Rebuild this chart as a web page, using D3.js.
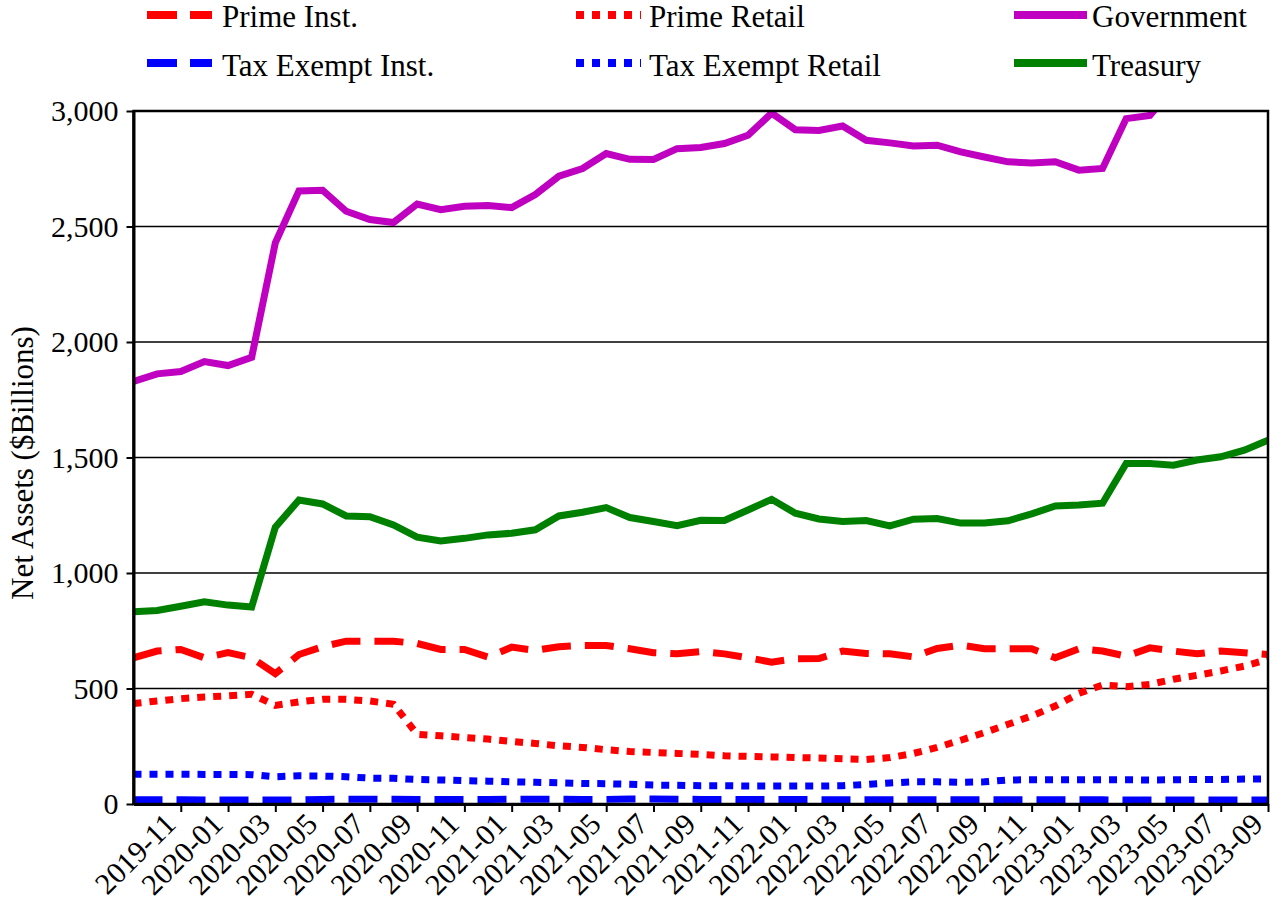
<!DOCTYPE html>
<html lang="en">
<head>
<meta charset="UTF-8"/>
<title>Money Market Fund Net Assets</title>
<script src="https://d3js.org/d3.v7.min.js"></script>
<style>
	body { margin: 0; background: #fff; }
	svg { display: block; font-family: "Liberation Serif", "Times New Roman", serif; }
</style>
</head>
<body>
<script>

var months = [
	"2019-09","2019-10","2019-11","2019-12",
	"2020-01","2020-02","2020-03","2020-04","2020-05","2020-06","2020-07","2020-08","2020-09","2020-10","2020-11","2020-12",
	"2021-01","2021-02","2021-03","2021-04","2021-05","2021-06","2021-07","2021-08","2021-09","2021-10","2021-11","2021-12",
	"2022-01","2022-02","2022-03","2022-04","2022-05","2022-06","2022-07","2022-08","2022-09","2022-10","2022-11","2022-12",
	"2023-01","2023-02","2023-03","2023-04","2023-05","2023-06","2023-07","2023-08","2023-09"
];

var tickLabels = [
	"2019-11","2020-01","2020-03","2020-05","2020-07","2020-09","2020-11",
	"2021-01","2021-03","2021-05","2021-07","2021-09","2021-11",
	"2022-01","2022-03","2022-05","2022-07","2022-09","2022-11",
	"2023-01","2023-03","2023-05","2023-07","2023-09"
];

var yTicks = [0, 500, 1000, 1500, 2000, 2500, 3000];

// net assets, $ billions
var primeInst = [633,662,669,633, 655,633,564,647,681,705,705,705,695,669,669,636,
	679,665,681,686,686,672,655,650,660,650,633,614,
	629,630,662,652,650,637,673,688,672,672,672,633,
	672,662,640,676,662,650,662,655,647];

var primeRetail = [435,446,456,463, 468,475,427,442,453,453,446,432,302,295,288,281,
	271,262,252,245,235,227,223,219,215,209,206,204,
	201,199,196,193,201,219,245,276,309,345,381,424,
	479,515,508,518,540,557,576,597,626];

var government = [1829,1862,1872,1915, 1898,1934,2429,2654,2657,2566,2530,2517,2597,2573,2588,2591,
	2582,2638,2718,2751,2816,2791,2790,2837,2842,2859,2895,2991,
	2919,2916,2935,2873,2862,2849,2852,2823,2801,2780,2775,2780,
	2744,2751,2967,2981,3100,3150,3200,3230,3260];

var taxExemptInst = [18,18,18,17, 17,17,17,18,20,21,21,21,20,19,19,20,
	21,21,21,20,20,22,22,21,20,20,19,19,
	19,19,18,18,18,18,18,18,19,18,18,18,
	18,18,17,17,17,17,17,17,17];

var taxExemptRetail = [129,129,129,128, 128,127,118,122,121,118,112,111,106,104,101,99,
	96,94,92,89,88,85,82,81,79,79,78,78,
	78,78,79,85,91,96,96,94,96,104,105,105,
	105,105,105,104,105,106,106,108,108];

var treasury = [832,838,856,875, 861,853,1198,1316,1299,1247,1244,1208,1155,1139,1150,1165,
	1172,1187,1247,1263,1283,1240,1223,1205,1228,1227,1273,1319,
	1259,1234,1223,1227,1204,1233,1236,1216,1216,1226,1256,1290,
	1294,1302,1474,1474,1467,1489,1503,1532,1575];

var seriesNames  = ["Prime Inst.", "Prime Retail", "Government", "Tax Exempt Inst.", "Tax Exempt Retail", "Treasury"];
var seriesValues = [primeInst, primeRetail, government, taxExemptInst, taxExemptRetail, treasury];
var seriesColors = ["#ff0000", "#ff0000", "#c000c0", "#0000ff", "#0000ff", "#008000"];
var seriesDash   = ["29,14", "8,8", null, "29,14", "8,8", null];

var w = 1272;
var h = 911;
var plotLeft = 133.5, plotRight = 1268, plotTop = 111, plotBottom = 804;
var serif = "'Liberation Serif', 'Times New Roman', serif";

var xScale = d3.scalePoint()
	.domain(months)
	.range([plotLeft, plotRight]);

var yScale = d3.scaleLinear()
	.domain([0, 3000])
	.range([plotBottom, plotTop]);

var svg = d3.select("body")
	.append("svg")
	.attr("width", w)
	.attr("height", h);

svg.append("clipPath")
	.attr("id", "plotClip")
	.append("rect")
	.attr("x", plotLeft)
	.attr("y", plotTop)
	.attr("width", plotRight - plotLeft)
	.attr("height", plotBottom - plotTop);

// horizontal grid
svg.append("g")
	.selectAll("line")
	.data(yTicks.filter(function(d) { return d > 0 && d < 3000; }))
	.enter()
	.append("line")
	.attr("x1", plotLeft)
	.attr("x2", plotRight)
	.attr("y1", function(d) { return yScale(d); })
	.attr("y2", function(d) { return yScale(d); })
	.attr("stroke", "#000")
	.attr("stroke-width", 1.4);

var line = d3.line()
	.x(function(d, i) { return xScale(months[i]); })
	.y(function(d) { return yScale(d); });

svg.append("g")
	.attr("clip-path", "url(#plotClip)")
	.selectAll("path")
	.data(seriesValues)
	.enter()
	.append("path")
	.attr("d", function(d) { return line(d); })
	.attr("fill", "none")
	.attr("stroke", function(d, i) { return seriesColors[i]; })
	.attr("stroke-width", 7)
	.attr("stroke-dasharray", function(d, i) { return seriesDash[i]; });

// frame
svg.append("rect")
	.attr("x", plotLeft)
	.attr("y", plotTop)
	.attr("width", plotRight - plotLeft)
	.attr("height", plotBottom - plotTop)
	.attr("fill", "none")
	.attr("stroke", "#000")
	.attr("stroke-width", 2.5);

var xAxis = svg.append("g")
	.attr("transform", "translate(0," + plotBottom + ")")
	.call(d3.axisBottom(xScale).tickValues(tickLabels).tickSize(8).tickSizeOuter(0))
	.attr("font-family", serif)
	.attr("font-size", 30);

xAxis.select(".domain").attr("stroke-width", 3);
xAxis.selectAll(".tick line").attr("stroke-width", 2);
xAxis.selectAll(".tick text")
	.attr("fill", "#000")
	.attr("text-anchor", "end")
	.attr("x", 0)
	.attr("y", 0)
	.attr("dy", 0)
	.attr("transform", "translate(-4,22) rotate(-45)");

var yAxis = svg.append("g")
	.attr("transform", "translate(" + plotLeft + ",0)")
	.call(d3.axisLeft(yScale).tickValues(yTicks).tickFormat(d3.format(",")).tickSize(7).tickPadding(8).tickSizeOuter(0))
	.attr("font-family", serif)
	.attr("font-size", 30);

yAxis.select(".domain").attr("stroke-width", 3);
yAxis.selectAll(".tick line").attr("stroke-width", 2);
yAxis.selectAll(".tick text").attr("fill", "#000");

svg.append("text")
	.attr("transform", "rotate(-90)")
	.attr("x", -463)
	.attr("y", 33)
	.attr("text-anchor", "middle")
	.attr("font-size", 31)
	.text("Net Assets ($Billions)");

// legend, 3 columns x 2 rows
var legX1 = [147, 576, 1014];
var legX2 = [212, 641, 1087];
var legTextX = [222, 649, 1092];
var legY = [15, 63];
var legBase = [27, 76];

var legend = svg.append("g")
	.selectAll("g")
	.data(seriesNames)
	.enter()
	.append("g");

legend.append("line")
	.attr("x1", function(d, i) { return legX1[i % 3]; })
	.attr("x2", function(d, i) { return legX2[i % 3]; })
	.attr("y1", function(d, i) { return legY[Math.floor(i / 3)]; })
	.attr("y2", function(d, i) { return legY[Math.floor(i / 3)]; })
	.attr("stroke", function(d, i) { return seriesColors[i]; })
	.attr("stroke-width", 8)
	.attr("stroke-dasharray", function(d, i) { return seriesDash[i] === "29,14" ? "30,13" : seriesDash[i]; });

legend.append("text")
	.attr("x", function(d, i) { return legTextX[i % 3]; })
	.attr("y", function(d, i) { return legBase[Math.floor(i / 3)]; })
	.attr("font-size", 31)
	.text(function(d) { return d; });

</script>
</body>
</html>
